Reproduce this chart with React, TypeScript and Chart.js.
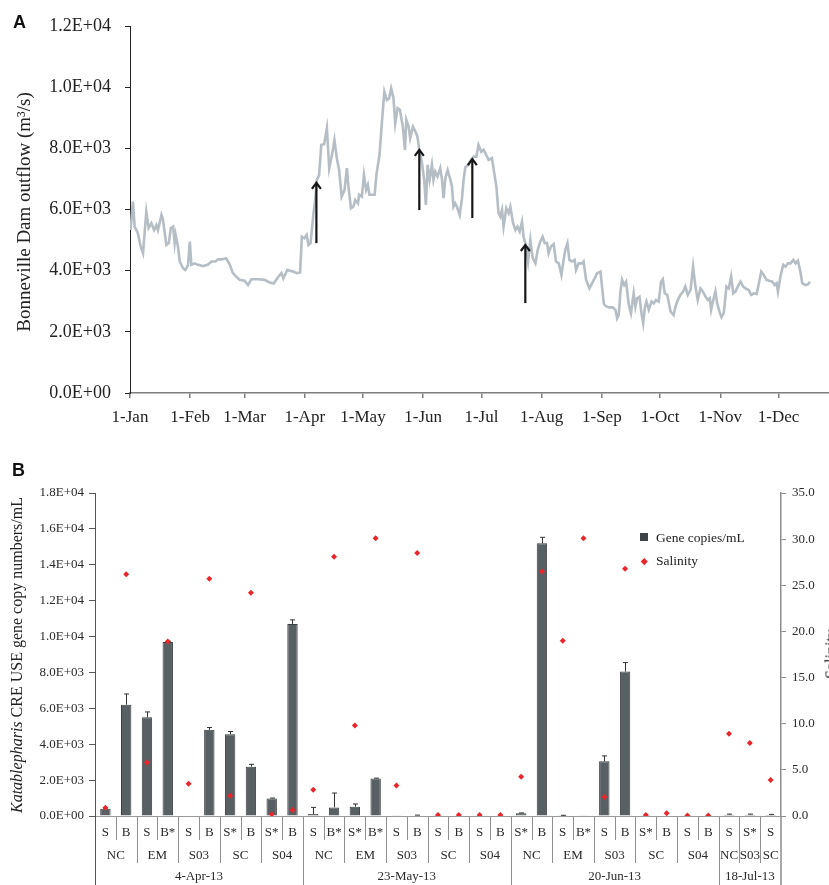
import React, { useEffect, useRef } from 'react';
import { Chart, registerables } from 'chart.js';
Chart.register(...registerables);

const SERIF = '"Liberation Serif", "Times New Roman", Times, serif';
const SANS = '"Liberation Sans", Arial, Helvetica, sans-serif';

// ---------- Panel A data ----------
const flowDays = [
  0.3, 1.5, 2.4, 4, 5.5, 6.7, 8.4, 9.6, 11, 12.4,
  13.6, 14.4, 16.2, 17, 18.7, 20, 21, 22.2, 23, 23.5,
  24.7, 25.6, 27.3, 28.5, 29.9, 30.8, 31.6, 33.3, 35, 37.6,
  40, 42, 44, 45.4, 47, 49.6, 51.4, 53, 54.8, 56.5,
  59, 60.8, 62.5, 66, 69.4, 72, 74, 76.5, 78, 79,
  81, 84, 86, 87.6, 88.5, 89.8, 91, 91.9, 93, 94.5,
  95.4, 96.2, 97.4, 98.5, 100, 101.4, 102.6, 104, 105.3, 106.5,
  107.7, 109, 110.5, 111.7, 112.5, 113.8, 115, 116, 117.4, 118,
  119.4, 120.5, 121.6, 122.5, 123.3, 124.6, 126, 127, 128.5, 129.7,
  131, 132.3, 133.5, 134.5, 135.7, 136.6, 137.8, 139, 140.5, 141.6,
  142.3, 143.5, 144.3, 145.7, 147, 148, 149, 150.4, 151.5, 152.4,
  153.3, 154.3, 155.5, 156.3, 157.2, 158.4, 159.8, 160.7, 161.5, 162.4,
  163.6, 165, 165.8, 166.6, 167.5, 168.4, 169.8, 171, 171.8, 172.7,
  174.4, 175.6, 177, 178.4, 179.5, 180.9, 182.1, 183.5, 184.7, 186.4,
  187.6, 188.7, 189.8, 190.7, 191.6, 192.4, 193.8, 195, 195.9, 197.3,
  198.5, 199.6, 200.7, 201.9, 202.7, 204, 205, 206.2, 207.4, 208.8,
  210, 211.3, 212.5, 213.6, 214.8, 215.6, 216.8, 218.2, 219.4, 220.8,
  222.2, 223.3, 224.2, 225.3, 226.3, 227.7, 229, 229.7, 231.1, 232.8,
  233.6, 234.9, 236.6, 238, 239.3, 240.6, 242.3, 243.1, 244, 244.8,
  246.6, 248.6, 250, 250.9, 251.7, 252.6, 253.4, 254.5, 255.5, 256.9,
  258, 259.4, 260.3, 261.2, 262.4, 263.4, 264.3, 265.1, 266, 267.2,
  268.6, 269.7, 270.9, 272.3, 273.5, 274.4, 275.4, 276.7, 278.4, 280,
  280.9, 282.1, 283.5, 284.9, 286, 287.3, 288.7, 290, 291.2, 292.4,
  293.8, 295, 296.4, 297.6, 298.6, 299.3, 300.4, 301.5, 302.4, 303.6,
  304.6, 305.8, 307.2, 308.4, 309.6, 310.7, 311.9, 313, 314.4, 315.8,
  317.5, 318.7, 319.9, 321.3, 322.7, 323.9, 325.1, 326.4, 327.8, 329.5,
  330.8, 332, 333, 333.7, 335, 336.4, 337.6, 338.8, 340.2, 341.6,
  342.8, 344, 345.4, 346.2, 347.9, 349.1, 350.2,
];
const flowValues = [
  5330, 6260, 5440, 5230, 4790, 4570, 5930, 5400, 5550, 5330,
  5490, 5330, 5820, 5660, 4840, 4900, 5390, 5440, 4900, 5170,
  4790, 4300, 4080, 4020, 4190, 4950, 4190, 4240, 4190, 4150,
  4190, 4300, 4300, 4370, 4370, 4400, 4190, 3920, 3800, 3700,
  3670, 3530, 3720, 3720, 3700, 3610, 3580, 3810, 3920, 3750,
  4020, 3970, 3920, 3940, 5110, 5060, 5170, 4840, 4900, 5880,
  6310, 6970, 7130, 8110, 8140, 8660, 7350, 7780, 8270, 7680,
  7290, 6420, 6640, 7350, 6750, 6040, 6090, 6310, 6200, 6480,
  6420, 7130, 6640, 6800, 6480, 6480, 6480, 7190, 7780, 8820,
  9850, 9580, 9640, 9960, 9640, 8820, 9310, 9260, 8710, 7950,
  8930, 8710, 8330, 8710, 8550, 8390, 7950, 7510, 6970, 6150,
  7460, 6970, 7460, 6970, 7240, 7080, 7350, 6970, 6370, 7020,
  7290, 6970, 6750, 6090, 6200, 6090, 5820, 6370, 6970, 7380,
  7460, 7620, 7730, 7730, 8110, 7890, 7950, 7780, 7620, 7680,
  7190, 6750, 5880, 5770, 5990, 5440, 6040, 5880, 6090, 5550,
  5330, 5440, 5280, 5600, 5110, 4790, 4300, 5000, 4410, 4240,
  4680, 4950, 5110, 4900, 4900, 4570, 4790, 4870, 4300, 4240,
  3860, 4350, 4680, 4900, 4350, 4300, 4350, 4020, 4240, 4240,
  4300, 3700, 3420, 3590, 3750, 3920, 3970, 3480, 2930, 2850,
  2800, 2800, 2720, 2440, 2550, 3320, 3700, 3530, 3640, 2880,
  2610, 3260, 2820, 3100, 3150, 2610, 2280, 2770, 2990, 2720,
  2990, 2930, 3040, 2990, 3640, 3720, 3260, 3210, 2660, 2550,
  2820, 3040, 3210, 3320, 3480, 3210, 3370, 4130, 3480, 3040,
  3420, 3320, 3150, 3040, 3100, 2720, 3040, 3320, 2930, 2660,
  2480, 2610, 3480, 3420, 3810, 3260, 3320, 3480, 3640, 3480,
  3400, 3370, 3210, 3260, 3240, 3590, 3970, 3860, 3700, 3660,
  3640, 3530, 3590, 3320, 3810, 4190, 4130, 4240, 4240, 4350,
  4240, 4330, 3920, 3590, 3530, 3550, 3640,
];
const monthTickDays = [0, 31, 59, 90, 120, 151, 181, 212, 243, 273, 304, 334];
const monthTickLabels = ['1-Jan', '1-Feb', '1-Mar', '1-Apr', '1-May', '1-Jun', '1-Jul', '1-Aug', '1-Sep', '1-Oct', '1-Nov', '1-Dec'];
const arrowDays = [96, 149, 176.3, 203.6];
const arrowBase = [4900, 5980, 5720, 2940];
const arrowTip = [6870, 7950, 7650, 4840];

// ---------- Panel B data ----------
const sampleLabels = [
  'S', 'B', 'S', 'B*', 'S', 'B', 'S*', 'B', 'S*', 'B',
  'S', 'B*', 'S*', 'B*', 'S', 'B', 'S', 'B', 'S', 'B',
  'S*', 'B', 'S', 'B*', 'S', 'B', 'S*', 'B', 'S', 'B',
  'S', 'S*', 'S',
];
const siteNames = ['NC', 'EM', 'S03', 'SC', 'S04', 'NC', 'EM', 'S03', 'SC', 'S04', 'NC', 'EM', 'S03', 'SC', 'S04', 'NC', 'S03', 'SC'];
const siteSizes = [2, 2, 2, 2, 2, 2, 2, 2, 2, 2, 2, 2, 2, 2, 2, 1, 1, 1];
const dateNames = ['4-Apr-13', '23-May-13', '20-Jun-13', '18-Jul-13'];
const dateSizes = [10, 10, 10, 3];
const geneCopies = [
  400, 6200, 5500, 9700, 30, 4800, 4560, 2750, 970, 10700,
  110, 480, 520, 2090, 20, 30, 20, 0, 0, 0,
  150, 15200, 20, 10, 3050, 8050, 20, 0, 0, 0,
  75, 75, 60,
];
const geneErrors = [
  40, 600, 300, 40, 0, 130, 150, 130, 30, 230,
  370, 800, 150, 20, 0, 20, 0, 0, 0, 0,
  20, 330, 20, 0, 300, 500, 0, 0, 0, 0,
  30, 30, 30,
];
const salinity = [
  0.9, 26.2, 5.8, 18.9, 3.5, 25.7, 2.2, 24.2, 0.2, 0.65,
  2.85, 28.1, 9.8, 30.1, 3.3, 28.5, 0.1, 0.1, 0.1, 0.1,
  4.25, 26.5, 19.0, 30.1, 2.05, 26.8, 0.1, 0.3, 0.05, 0.05,
  8.9, 7.9, 3.9,
];

function sci(v: number): string {
  if (v === 0) return '0.0E+00';
  const e = Math.floor(Math.log10(Math.abs(v)) + 1e-9);
  const m = v / Math.pow(10, e);
  return m.toFixed(1) + 'E+' + String(e).padStart(2, '0');
}

function expandGroups(names: string[], sizes: number[]): string[] {
  const out: string[] = [];
  names.forEach((n, i) => { for (let k = 0; k < sizes[i]; k++) out.push(n); });
  return out;
}
const siteOfCat = expandGroups(siteNames, siteSizes);
const dateOfCat = expandGroups(dateNames, dateSizes);
const categoryLabels = sampleLabels.map((s, i) => `${dateOfCat[i]} ${siteOfCat[i]} ${s}`);

const arrowPlugin = {
  id: 'arrows',
  afterDatasetsDraw(chart: any) {
    const { ctx } = chart;
    const x = chart.scales.x;
    const y = chart.scales.y;
    ctx.save();
    ctx.strokeStyle = '#161616';
    ctx.lineWidth = 2.2;
    arrowDays.forEach((d, i) => {
      const px = x.getPixelForValue(d);
      const yb = y.getPixelForValue(arrowBase[i]);
      const yt = y.getPixelForValue(arrowTip[i]);
      ctx.beginPath();
      ctx.moveTo(px, yb);
      ctx.lineTo(px, yt + 1);
      ctx.stroke();
      ctx.beginPath();
      ctx.moveTo(px - 4.5, yt + 6);
      ctx.lineTo(px, yt);
      ctx.lineTo(px + 4.5, yt + 6);
      ctx.stroke();
    });
    ctx.restore();
  },
};

const errorBarPlugin = {
  id: 'errbars',
  afterDatasetDraw(chart: any, args: any) {
    if (args.index !== 0) return;
    const { ctx } = chart;
    const y = chart.scales.y;
    ctx.save();
    ctx.strokeStyle = '#333';
    ctx.lineWidth = 1;
    args.meta.data.forEach((bar: any, i: number) => {
      const e = geneErrors[i];
      if (!e) return;
      const top = y.getPixelForValue(geneCopies[i] + e);
      const bx = Math.round(bar.x) + 0.5;
      ctx.beginPath();
      ctx.moveTo(bx, bar.y);
      ctx.lineTo(bx, top);
      ctx.moveTo(bx - 2.5, top);
      ctx.lineTo(bx + 2.5, top);
      ctx.stroke();
    });
    ctx.restore();
  },
};

const multiAxisPlugin = {
  id: 'multiAxis',
  afterDraw(chart: any) {
    const { ctx, chartArea } = chart;
    const x = chart.scales.x;
    const bottom = chartArea.bottom;
    const H = chart.height;
    const px = (i: number) => x.getPixelForValue(i);
    const half = (px(1) - px(0)) / 2;
    const siteStarts = new Set<number>();
    const dateStarts = new Set<number>();
    let c = 0;
    siteSizes.forEach((s) => { siteStarts.add(c); c += s; });
    c = 0;
    dateSizes.forEach((s) => { dateStarts.add(c); c += s; });

    ctx.save();
    ctx.lineWidth = 1;
    ctx.strokeStyle = '#8f8f8f';
    for (let b = 1; b < sampleLabels.length; b++) {
      const xb = Math.round(px(b) - half) + 0.5;
      let end = bottom + 24;
      if (dateStarts.has(b)) end = H;
      else if (siteStarts.has(b)) end = bottom + 47;
      ctx.beginPath();
      ctx.moveTo(xb, bottom);
      ctx.lineTo(xb, end);
      ctx.stroke();
    }
    // axis extensions
    ctx.strokeStyle = '#555';
    ctx.beginPath();
    ctx.moveTo(Math.round(chartArea.left) + 0.5, bottom);
    ctx.lineTo(Math.round(chartArea.left) + 0.5, H);
    ctx.stroke();
    ctx.strokeStyle = '#8c8c8c';
    ctx.lineWidth = 1.5;
    ctx.beginPath();
    ctx.moveTo(chartArea.right, bottom);
    ctx.lineTo(chartArea.right, H);
    ctx.stroke();

    ctx.fillStyle = '#2a2a2a';
    ctx.textAlign = 'center';
    ctx.textBaseline = 'middle';
    ctx.font = `13px ${SERIF}`;
    sampleLabels.forEach((s, i) => ctx.fillText(s, px(i), bottom + 17));
    c = 0;
    siteNames.forEach((n, i) => {
      const a = px(c) - half;
      const z = px(c + siteSizes[i] - 1) + half;
      ctx.fillText(n, (a + z) / 2, bottom + 40);
      c += siteSizes[i];
    });
    c = 0;
    dateNames.forEach((n, i) => {
      const a = px(c) - half;
      const z = px(c + dateSizes[i] - 1) + half;
      ctx.fillText(n, (a + z) / 2, bottom + 61);
      c += dateSizes[i];
    });
    ctx.restore();
  },
};

export default function App() {
  const refA = useRef<HTMLCanvasElement>(null);
  const refB = useRef<HTMLCanvasElement>(null);

  useEffect(() => {
    const chartA = new Chart(refA.current as HTMLCanvasElement, {
      type: 'line',
      data: {
        datasets: [
          {
            data: flowDays.map((d, i) => ({ x: d, y: flowValues[i] })),
            borderColor: '#b5bdc5',
            borderWidth: 2.6,
            pointRadius: 0,
            tension: 0,
            fill: false,
          },
        ],
      },
      options: {
        responsive: false,
        animation: false,
        layout: { padding: { top: 26, left: 0, right: 0, bottom: 0 } },
        plugins: { legend: { display: false }, tooltip: { enabled: false } },
        scales: {
          x: {
            type: 'linear',
            min: 0,
            max: 360,
            afterBuildTicks: (s: any) => { s.ticks = monthTickDays.map((v) => ({ value: v })); },
            ticks: {
              autoSkip: false,
              maxRotation: 0,
              padding: 9,
              color: '#222',
              font: { family: SERIF, size: 17 },
              callback: (_v: any, i: number) => monthTickLabels[i],
            },
            grid: { drawOnChartArea: false, tickLength: 5, color: '#7f7f7f', lineWidth: 1.5 },
            border: { color: '#7f7f7f', width: 1.5 },
            afterFit: (s: any) => { s.height = 47; },
          },
          y: {
            min: 0,
            max: 12000,
            ticks: {
              stepSize: 2000,
              padding: 14,
              color: '#222',
              font: { family: SERIF, size: 18 },
              callback: (v: any) => sci(Number(v)),
            },
            grid: { drawOnChartArea: false, tickLength: 5, color: '#222' },
            border: { color: '#222', width: 1 },
            afterFit: (s: any) => { s.width = 130; },
          },
        },
      } as any,
      plugins: [arrowPlugin],
    });

    const chartB = new Chart(refB.current as HTMLCanvasElement, {
      type: 'bar',
      data: {
        labels: categoryLabels,
        datasets: [
          {
            type: 'bar',
            label: 'Gene copies/mL',
            data: geneCopies,
            backgroundColor: '#596064',
            borderColor: '#3b4042',
            borderWidth: 1,
            yAxisID: 'y',
            order: 2,
            barPercentage: 0.5,
            categoryPercentage: 1,
          },
          {
            type: 'line',
            label: 'Salinity',
            data: salinity,
            yAxisID: 'y1',
            showLine: false,
            pointStyle: 'rectRot',
            pointRadius: 3,
            pointBackgroundColor: '#e8262c',
            pointBorderWidth: 0,
            order: 1,
          },
        ],
      } as any,
      options: {
        responsive: false,
        animation: false,
        layout: { padding: { top: 53, left: 0, right: 0, bottom: 0 } },
        plugins: { legend: { display: false }, tooltip: { enabled: false } },
        scales: {
          x: {
            ticks: { display: false },
            grid: { display: false },
            border: { color: '#9a9a9a', width: 1 },
            afterFit: (s: any) => { s.height = 69; },
          },
          y: {
            position: 'left',
            min: 0,
            max: 18000,
            ticks: {
              stepSize: 2000,
              padding: 5,
              color: '#2a2a2a',
              font: { family: SERIF, size: 13 },
              callback: (v: any) => sci(Number(v)),
            },
            grid: { drawOnChartArea: false, tickLength: 6, color: '#555' },
            border: { color: '#555', width: 1 },
            afterFit: (s: any) => { s.width = 95; },
          },
          y1: {
            position: 'right',
            min: 0,
            max: 35,
            ticks: {
              stepSize: 5,
              padding: 6,
              color: '#2a2a2a',
              font: { family: SERIF, size: 13 },
              callback: (v: any) => Number(v).toFixed(1),
            },
            grid: { drawOnChartArea: false, tickLength: 5, color: '#8c8c8c' },
            border: { color: '#8c8c8c', width: 1.5 },
            afterFit: (s: any) => { s.width = 48; },
          },
        },
      } as any,
      plugins: [errorBarPlugin, multiAxisPlugin],
    });

    return () => {
      chartA.destroy();
      chartB.destroy();
    };
  }, []);

  const rot = (cx: number, cy: number, size: number): React.CSSProperties => ({
    position: 'absolute',
    left: cx,
    top: cy,
    transform: 'translate(-50%, -50%) rotate(-90deg)',
    whiteSpace: 'nowrap',
    fontFamily: SERIF,
    fontSize: size,
    lineHeight: 1.2,
    color: '#222',
  });

  return (
    <div style={{ position: 'absolute', left: 0, top: 0, width: 829, height: 885, overflow: 'hidden', background: '#fff' }}>
      <canvas ref={refA} width={829} height={440} style={{ position: 'absolute', left: 0, top: 0 }} />
      <canvas ref={refB} width={829} height={445} style={{ position: 'absolute', left: 0, top: 440 }} />
      <div style={{ position: 'absolute', left: 13, top: 13, fontFamily: SANS, fontWeight: 'bold', fontSize: 18, lineHeight: '18px', color: '#111' }}>A</div>
      <div style={{ position: 'absolute', left: 12, top: 461, fontFamily: SANS, fontWeight: 'bold', fontSize: 18, lineHeight: '18px', color: '#111' }}>B</div>
      <div style={rot(24, 212, 19)}>Bonneville Dam outflow (m³/s)</div>
      <div style={rot(17, 655, 16)}><i>Katablepharis</i> CRE USE gene copy numbers/mL</div>
      <div style={rot(831, 654, 16)}>Salinity</div>
      <div style={{ position: 'absolute', left: 640, top: 533, width: 8, height: 8, background: '#3d4346' }} />
      <div style={{ position: 'absolute', left: 656, top: 529, fontFamily: SERIF, fontSize: 13.5, lineHeight: '17px', color: '#222', whiteSpace: 'nowrap' }}>Gene copies/mL</div>
      <div style={{ position: 'absolute', left: 641.5, top: 558.5, width: 4.5, height: 4.5, background: '#e8262c', transform: 'rotate(45deg)' }} />
      <div style={{ position: 'absolute', left: 656, top: 552, fontFamily: SERIF, fontSize: 13.5, lineHeight: '17px', color: '#222', whiteSpace: 'nowrap' }}>Salinity</div>
    </div>
  );
}
